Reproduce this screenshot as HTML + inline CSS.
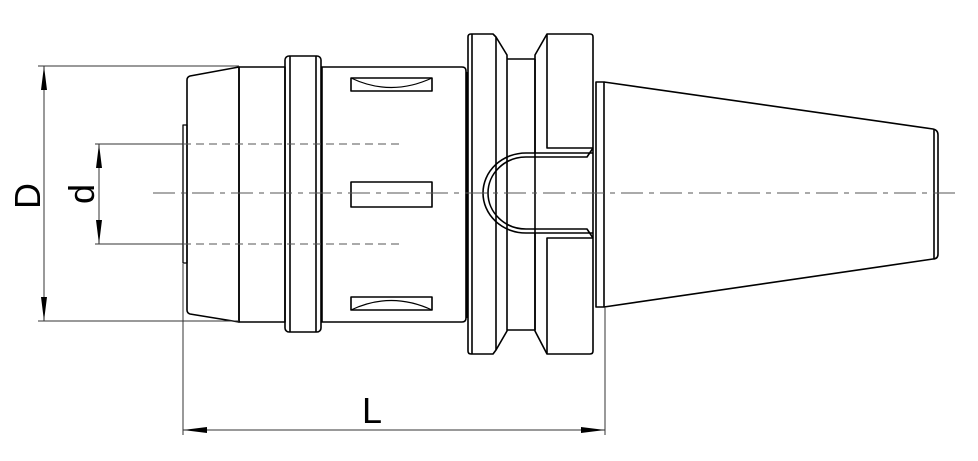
<!DOCTYPE html>
<html><head><style>body{margin:0;background:#fff}svg{display:block}</style></head><body>
<svg width="978" height="461" viewBox="0 0 978 461" xmlns="http://www.w3.org/2000/svg" font-family="Liberation Sans, sans-serif">
<g fill="none" stroke="#000" stroke-width="1.6" stroke-linejoin="round">
<path d="M183 125 H187 V263 H183 Z" stroke-width="1.3"/>
<path d="M190 76 L239 67 V322 L190 314 Q187 313 187 310 V80 Q187 77 190 76 Z"/>
<rect x="239" y="67" width="46" height="255"/>
<rect x="285" y="56" width="36" height="276" rx="4"/>
<line x1="290" y1="56" x2="290" y2="332"/><line x1="316" y1="56" x2="316" y2="332"/>
<path d="M321 67 H462 Q466 67 466 71 V318 Q466 322 462 322 H321"/>
<line x1="467" y1="72" x2="467" y2="318" stroke-width="2.5"/>
<line x1="322" y1="67" x2="322" y2="322"/>
<rect x="351" y="78" width="81" height="13"/><path d="M351 78 Q391 97 432 78" stroke-width="1.2"/>
<rect x="351" y="182" width="81" height="25"/>
<rect x="351" y="297" width="81" height="13"/><path d="M351 310 Q391 291 432 310" stroke-width="1.2"/>
<path d="M471 34 H493 L496 37 L507 55 V331 L496 350 L493 354 H471 Q468 354 468 351 V37 Q468 34 471 34 Z"/>
<line x1="472" y1="34" x2="472" y2="354"/><line x1="496" y1="37" x2="496" y2="350"/>
<line x1="507" y1="59" x2="535" y2="59"/><line x1="507" y1="330" x2="535" y2="330"/>
<path d="M535 55 L547 34 H590 Q593 34 593 37 V351 Q593 354 590 354 H547 L535 331 Z"/>
<path d="M547 34 V148 H593 M547 354 V238 H593"/>
<path d="M526 153 H593 M526 157 H587 L593 148 M526 233 H593 M526 229 H587 L593 238"/>
<path d="M526 153 A43 40 0 0 0 526 233"/>
<path d="M526 157 A38 36 0 0 0 526 229"/>
<line x1="535" y1="59" x2="535" y2="153"/><line x1="535" y1="233" x2="535" y2="330"/>
<rect x="596" y="82" width="8" height="225"/>
<path d="M604 82 L933 129 Q938 130 938 135 V254 Q938 259 933 259 L604 307"/>
<line x1="934" y1="129" x2="934" y2="259"/>
</g>
<g stroke="#555" stroke-width="1.1" fill="none">
<line x1="153" y1="193" x2="958" y2="193" stroke-dasharray="22,6,5,6"/>
<line x1="183" y1="144" x2="400" y2="144" stroke-dasharray="8,5"/>
<line x1="183" y1="244" x2="400" y2="244" stroke-dasharray="8,5"/>
</g>
<g stroke="#333" stroke-width="1">
<line x1="38" y1="66" x2="239" y2="66"/><line x1="38" y1="321" x2="239" y2="321"/>
<line x1="44" y1="66" x2="44" y2="321"/>
<line x1="95" y1="144" x2="183" y2="144"/><line x1="95" y1="244" x2="183" y2="244"/>
<line x1="99" y1="144" x2="99" y2="244"/>
<line x1="183" y1="264" x2="183" y2="435"/><line x1="605" y1="307" x2="605" y2="435"/>
<line x1="183" y1="430" x2="605" y2="430"/>
</g>
<g fill="#000">
<path d="M44 66 L41 90 L47 90 Z"/><path d="M44 321 L41 297 L47 297 Z"/>
<path d="M99 144 L96 168 L102 168 Z"/><path d="M99 244 L96 220 L102 220 Z"/>
<path d="M183 430 L207 427 L207 433 Z"/><path d="M605 430 L581 427 L581 433 Z"/>
</g>
<text x="0" y="0" font-size="36" transform="translate(40,196) rotate(-90)" text-anchor="middle">D</text>
<text x="0" y="0" font-size="36" transform="translate(94,194) rotate(-90)" text-anchor="middle">d</text>
<text x="372" y="423" font-size="36" text-anchor="middle">L</text>
</svg>
</body></html>
